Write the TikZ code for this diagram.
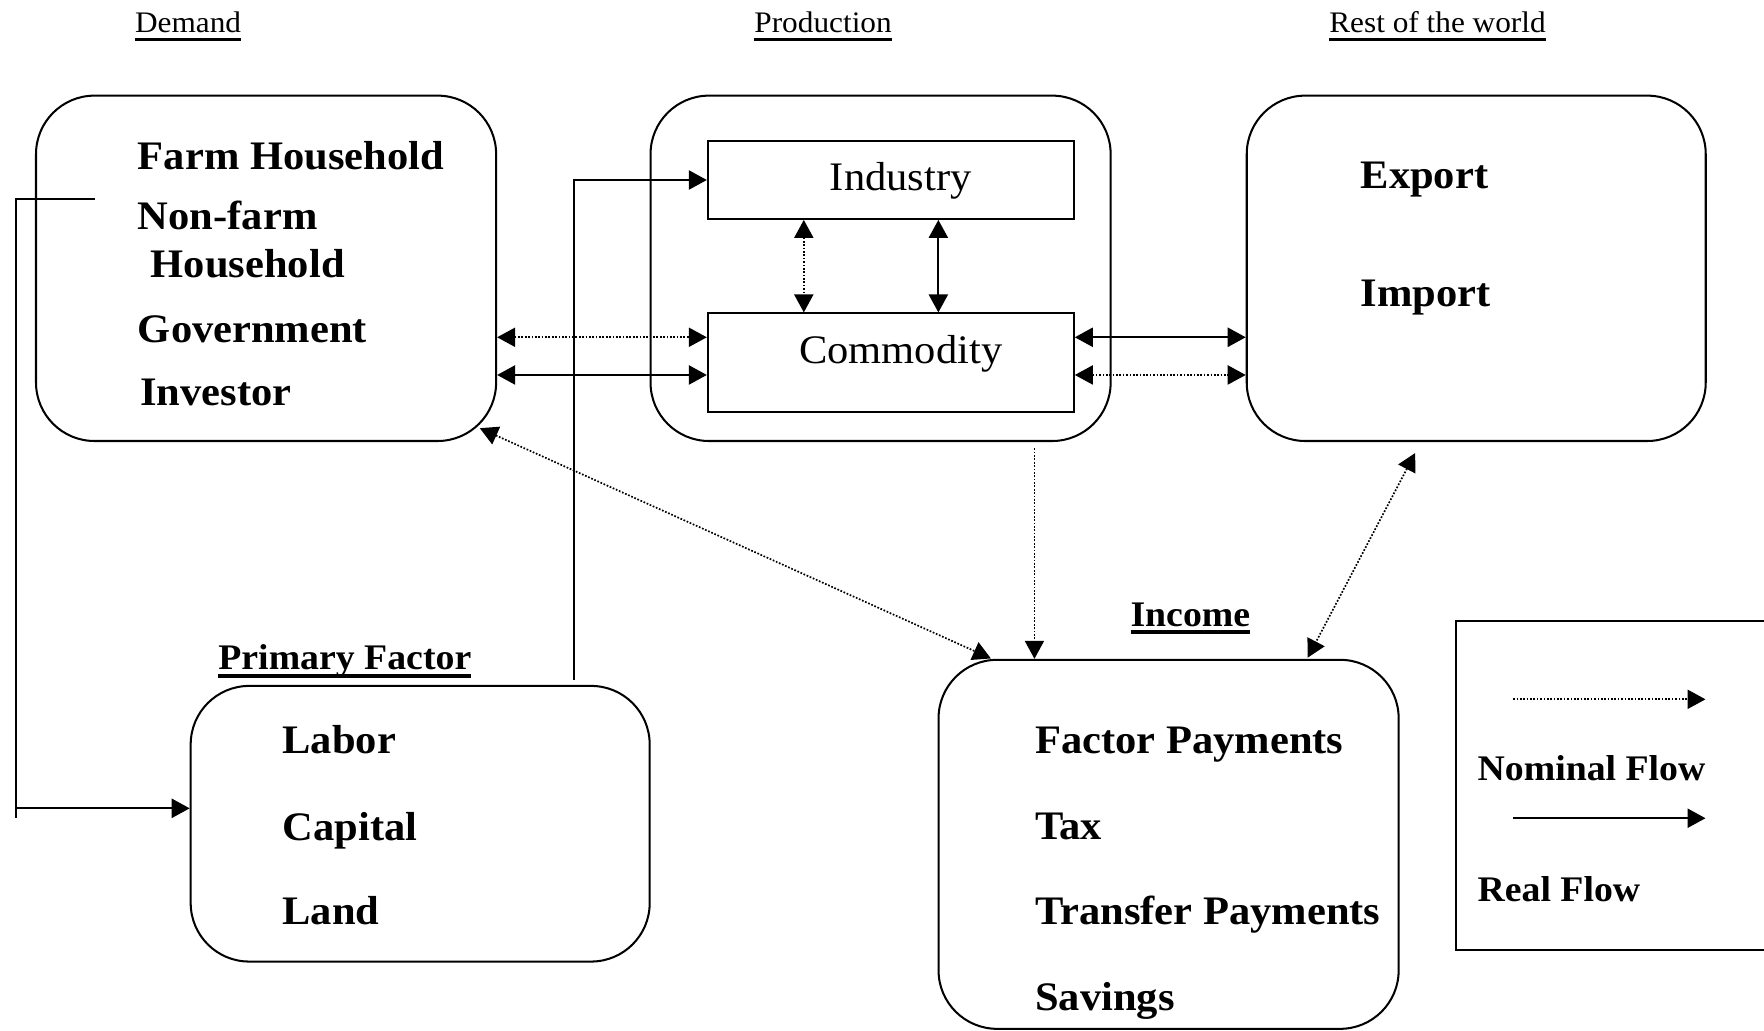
\documentclass[tikz,border=0pt]{standalone}
\usepackage{fontspec}
\setmainfont{Liberation Serif}[FakeStretch=1.05]
\usetikzlibrary{arrows.meta}
\newcommand\FBox{\fontsize{36}{43}\selectfont\bfseries}
\newcommand\FReg{\fontsize{36}{43}\selectfont}
\newcommand\FHead{\fontsize{26.5}{32}\selectfont}
\newcommand\FLab{\fontsize{32}{38}\selectfont\bfseries}
\newcommand\myul[3]{\setbox0\hbox{#3}\rlap{\vrule width\wd0 height\dimexpr-#1+#2\relax depth #1}\box0}
\tikzset{
  >={Triangle[length=16pt,width=17pt]},
  rbox/.style={draw, line width=1.8pt, rounded corners=52pt, inner sep=0pt},
  sbox/.style={draw, line width=1.6pt, inner sep=0pt},
  txt/.style={anchor=base west, inner sep=0pt, font=\FBox},
  real/.style={line width=1.8pt},
  nom/.style={line width=1.5pt, dash pattern=on 1.5pt off 1.5pt},
}
\begin{document}
\begin{tikzpicture}[x=1pt,y=-1pt]
\useasboundingbox (0,0) rectangle (1568,916);
\fill[white] (0,0) rectangle (1568,916);

% headers
\node[anchor=base, inner sep=0pt, font=\FHead] (hdem) at (167.2,28.7) {\myul{7.5pt}{2.4pt}{Demand}};
\node[anchor=base, inner sep=0pt, font=\FHead] (hprod) at (731.6,28.7) {\myul{7.5pt}{2.4pt}{Production}};
\node[anchor=base, inner sep=0pt, font=\FHead] (hrow) at (1277.8,28.7) {\myul{7.5pt}{2.4pt}{Rest of the world}};

% main boxes
\node[rbox, minimum width=409pt, minimum height=307pt] (demand) at (236.5,238.5) {};
\node[rbox, minimum width=409pt, minimum height=307pt] (prod) at (782.75,238.5) {};
\node[rbox, minimum width=408pt, minimum height=307pt] (row) at (1312.2,238.5) {};
\node[rbox, minimum width=408pt, minimum height=245pt] (pf) at (373.5,732.2) {};
\node[rbox, minimum width=409pt, minimum height=328pt] (inc) at (1038.75,750.5) {};

% inner rectangles
\node[sbox, minimum width=325.5pt, minimum height=69.4pt] (ind) at (791.85,160) {};
\node[sbox, minimum width=325.5pt, minimum height=87.5pt] (comm) at (791.85,322.25) {};
\node[anchor=base, inner sep=0pt, font=\FReg] (tind) at (800.7,169) {Industry};
\node[anchor=base, inner sep=0pt, font=\FReg] (tcomm) at (800.7,323) {Commodity};

% demand texts
\node[txt] (t1) at (122.4,151) {Farm Household};
\node[txt] (t2) at (122.4,204) {Non-farm};
\node[txt] (t3) at (133.9,247) {Household};
\node[txt] (t4) at (122.4,304) {Government};
\node[txt] (t5) at (124.5,360) {Investor};

% rest of world texts
\node[txt] (t6) at (1209.3,167.4) {Export};
\node[txt] (t7) at (1209.3,272.6) {Import};

% primary factor
\node[txt, font=\FLab] (tpf) at (193.9,595.5) {\myul{7pt}{3.2pt}{Primary Factor}};
\node[txt] (t8) at (251,670) {Labor};
\node[txt] (t9) at (251,747) {Capital};
\node[txt] (t10) at (251,822) {Land};

% income
\node[txt, font=\FLab] (tinc) at (1004.7,557) {\myul{6.5pt}{3.2pt}{Income}};
\node[txt] (t11) at (920,670) {Factor Payments};
\node[txt] (t12) at (920,746) {Tax};
\node[txt] (t13) at (920,822) {Transfer Payments};
\node[txt] (t14) at (920,898) {Savings};

% legend
\draw[line width=1.8pt] (1294.6,552.4) rectangle (1620,844.4);
\coordinate (l1a) at (1345,621.6);
\coordinate (l1b) at (1516,621.6);
\coordinate (l2a) at (1345,727.3);
\coordinate (l2b) at (1516,727.3);
\draw[nom,->] (l1a) -- (l1b);
\draw[real,->] (l2a) -- (l2b);
\node[txt, font=\FLab] (tnom) at (1313.2,693.7) {Nominal Flow};
\node[txt, font=\FLab] (treal) at (1313.2,801.1) {Real Flow};

% connector rows/columns
\coordinate (r1) at (0,299.8);
\coordinate (r2) at (0,333.3);
\coordinate (c1) at (714.5,0);
\coordinate (c2) at (834.1,0);

\draw[nom,<->] (demand.east |- r1) -- (comm.west |- r1);
\draw[real,<->] (demand.east |- r2) -- (comm.west |- r2);
\draw[real,<->] (comm.east |- r1) -- (row.west |- r1);
\draw[nom,<->] (comm.east |- r2) -- (row.west |- r2);
\draw[nom,<->] (ind.south -| c1) -- (comm.north -| c1);
\draw[real,<->] (ind.south -| c2) -- (comm.north -| c2);

% primary factor -> industry
\coordinate (pfup) at (510.5,604.4);
\draw[real,->] (pfup) |- (ind.west);

% demand -> primary factor loop
\coordinate (dl) at (84,176.5);
\coordinate (dc) at (14.3,176.5);
\coordinate (dbot) at (14.3,727.4);
\coordinate (pfin) at (14.3,718.5);
\draw[real] (dl) -- (dc) -- (dbot);
\draw[real,->] (pfin) -- (pf.west |- pfin);

% production -> income
\coordinate (pd) at (919.5,398.5);
\draw[nom,->] (pd) -- (pd |- inc.north);

% demand <-> income
\coordinate (di1) at (426.5,380.6);
\coordinate (di2) at (880.8,585.3);
\draw[nom,<->] (di1) -- (di2);

% rest of world <-> income
\coordinate (ri1) at (1257.9,402.7);
\coordinate (ri2) at (1162.4,584.6);
\draw[nom,<->] (ri1) -- (ri2);
\end{tikzpicture}
\end{document}
